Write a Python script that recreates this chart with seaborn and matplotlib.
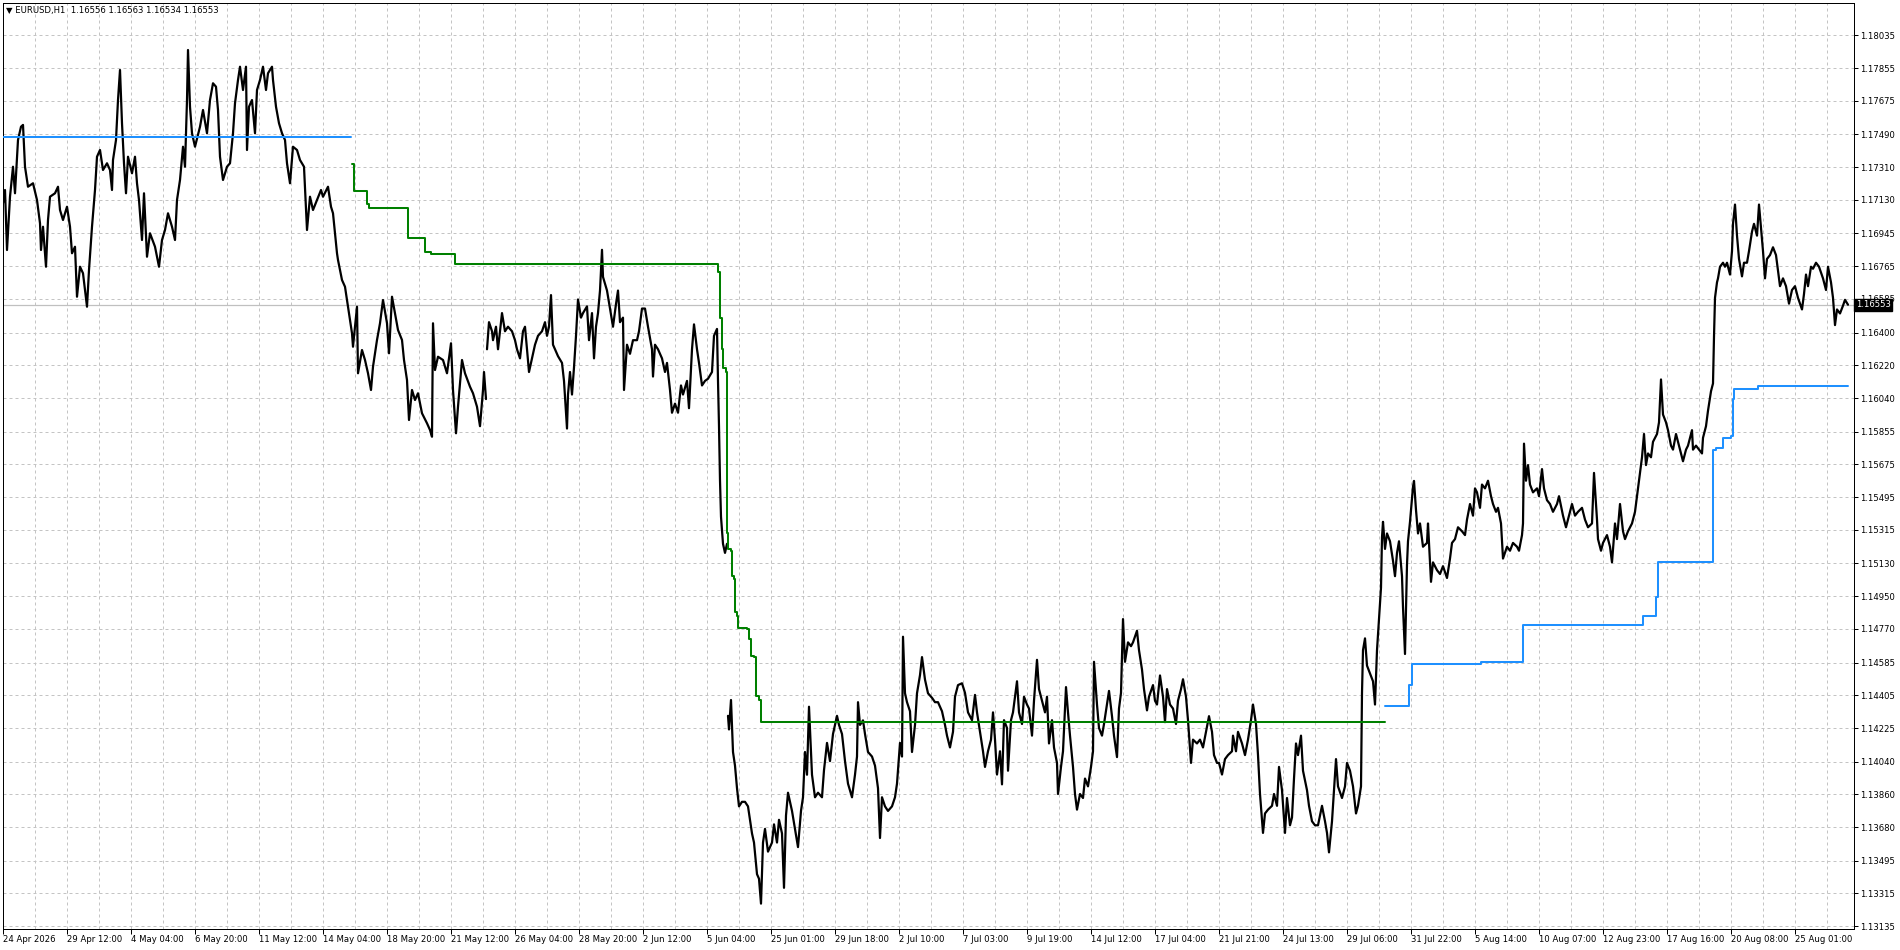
import matplotlib
matplotlib.use("Agg")
import matplotlib.pyplot as plt
import matplotlib.transforms as mtransforms
import numpy as np
import pandas as pd
import seaborn as sns

sns.set_theme(style="white")
plt.rcParams["font.family"] = ["DejaVu Sans"]

# ---------------- data ----------------
title_text = "\u25BC EURUSD,H1  1.16556 1.16563 1.16534 1.16553"
last_price = 1.16553

x_tick_labels = ["24 Apr 2026", "29 Apr 12:00", "4 May 04:00", "6 May 20:00", "11 May 12:00",
                 "14 May 04:00", "18 May 20:00", "21 May 12:00", "26 May 04:00", "28 May 20:00",
                 "2 Jun 12:00", "5 Jun 04:00", "25 Jun 01:00", "29 Jun 18:00", "2 Jul 10:00",
                 "7 Jul 03:00", "9 Jul 19:00", "14 Jul 12:00", "17 Jul 04:00", "21 Jul 21:00",
                 "24 Jul 13:00", "29 Jul 06:00", "31 Jul 22:00", "5 Aug 14:00", "10 Aug 07:00",
                 "12 Aug 23:00", "17 Aug 16:00", "20 Aug 08:00", "25 Aug 01:00"]
bars_per_label = 64
first_label_bar = 3.2

y_tick_labels = ["1.18035", "1.17855", "1.17675", "1.17490", "1.17310", "1.17130", "1.16945",
                 "1.16765", "1.16585", "1.16400", "1.16220", "1.16040", "1.15855", "1.15675",
                 "1.15495", "1.15315", "1.15130", "1.14950", "1.14770", "1.14585", "1.14405",
                 "1.14225", "1.14040", "1.13860", "1.13680", "1.13495", "1.13315", "1.13135"]

# price path (bar number, price) in three runs separated by history gaps
price_seg_a = [
    (3, 1.17111), (5, 1.17184), (7, 1.16854), (10, 1.17147), (13, 1.17312), (15, 1.17166), (18, 1.17459), (21, 1.17532), (23, 1.17542), (25, 1.17312),
    (28, 1.17202), (33, 1.17221), (37, 1.17129), (40, 1.17001), (41, 1.16854), (43, 1.16982), (46, 1.16762), (48, 1.17019), (50, 1.17147), (55, 1.17166),
    (58, 1.17202), (60, 1.17074), (63, 1.17019), (67, 1.17092), (70, 1.16982), (72, 1.16836), (75, 1.16872), (77, 1.16597), (80, 1.16762), (83, 1.16726),
    (87, 1.16542), (89, 1.16744), (92, 1.16982), (95, 1.17184), (97, 1.17367), (100, 1.17404), (103, 1.17294), (107, 1.17331), (110, 1.17294), (112, 1.17184),
    (113, 1.17349), (116, 1.17459), (118, 1.17679), (120, 1.17844), (122, 1.17551), (124, 1.17331), (126, 1.17166), (128, 1.17367), (132, 1.17276), (135, 1.17367),
    (137, 1.17221), (139, 1.17129), (142, 1.16909), (144, 1.17166), (147, 1.16817), (150, 1.16946), (155, 1.16872), (159, 1.16762), (162, 1.16909), (165, 1.16964),
    (168, 1.17056), (172, 1.16982), (175, 1.16909), (177, 1.17129), (180, 1.17239), (183, 1.17422), (185, 1.17312), (187, 1.17679), (188, 1.17954), (190, 1.17642),
    (192, 1.17496), (195, 1.17422), (200, 1.17532), (203, 1.17624), (207, 1.17496), (210, 1.17679), (213, 1.17771), (216, 1.17752), (218, 1.17624), (220, 1.17367),
    (223, 1.17239), (227, 1.17312), (230, 1.17331), (233, 1.17496), (235, 1.17661), (238, 1.17789), (240, 1.17862), (243, 1.17734), (246, 1.17862), (247, 1.17404),
    (249, 1.17642), (252, 1.17679), (255, 1.17496), (257, 1.17734), (260, 1.17789), (263, 1.17862), (266, 1.17734), (268, 1.17826), (272, 1.17862), (273, 1.17789),
    (276, 1.17642), (279, 1.17551), (282, 1.17496), (285, 1.17459), (287, 1.17331), (290, 1.17221), (293, 1.17422), (297, 1.17404), (300, 1.17349), (304, 1.17312),
    (307, 1.16964), (310, 1.17147), (313, 1.17074), (317, 1.17129), (321, 1.17184), (323, 1.17147), (328, 1.17202), (331, 1.17092), (333, 1.17056), (337, 1.16836),
    (338, 1.16799), (342, 1.16689), (345, 1.16652), (348, 1.16542), (352, 1.16396), (353, 1.16322), (357, 1.16542), (358, 1.16176), (362, 1.16304), (365, 1.16249),
    (368, 1.16176), (371, 1.16084), (373, 1.16212), (377, 1.16359), (380, 1.16451), (383, 1.16579), (387, 1.16451), (389, 1.16286), (392, 1.16597), (395, 1.16506),
    (398, 1.16414), (402, 1.16359), (404, 1.16249), (407, 1.16139), (409, 1.15919), (412, 1.16084), (415, 1.16029), (418, 1.16066), (422, 1.15956), (427, 1.15901),
    (430, 1.15864), (432, 1.15827), (433, 1.16451), (435, 1.16194), (438, 1.16267), (443, 1.16249), (447, 1.16176), (451, 1.16341), (453, 1.16084), (456, 1.15846),
    (458, 1.15992), (462, 1.16249), (465, 1.16176), (470, 1.16102), (473, 1.16066), (477, 1.15992), (480, 1.15885), (483, 1.16084), (484, 1.16183), (486, 1.16034),
]
price_seg_b = [
    (487, 1.16308), (489, 1.16457), (492, 1.16407), (493, 1.16358), (496, 1.16432), (498, 1.16308), (500, 1.16407), (502, 1.16507), (505, 1.16407), (508, 1.16432),
    (512, 1.16407), (515, 1.16358), (517, 1.16308), (520, 1.16258), (523, 1.16407), (525, 1.16432), (527, 1.16308), (529, 1.16183), (532, 1.16258), (535, 1.16333),
    (538, 1.16382), (542, 1.16407), (545, 1.16457), (547, 1.16382), (549, 1.16432), (551, 1.16606), (553, 1.16333), (555, 1.16308), (558, 1.16270), (562, 1.16233),
    (564, 1.16134), (567, 1.15872), (568, 1.16059), (570, 1.16183), (572, 1.16059), (574, 1.16208), (576, 1.16382), (578, 1.16582), (581, 1.16482), (583, 1.16507),
    (587, 1.16544), (589, 1.16358), (592, 1.16507), (594, 1.16258), (596, 1.16432), (598, 1.16507), (600, 1.16631), (602, 1.16855), (603, 1.16706), (607, 1.16631),
    (610, 1.16532), (613, 1.16432), (616, 1.16557), (618, 1.16631), (620, 1.16457), (623, 1.16482), (624, 1.16084), (627, 1.16333), (630, 1.16283), (633, 1.16358),
    (637, 1.16358), (639, 1.16407), (642, 1.16532), (645, 1.16532), (648, 1.16432), (652, 1.16308), (653, 1.16158), (655, 1.16333), (658, 1.16308), (662, 1.16258),
    (665, 1.16183), (667, 1.16233), (670, 1.16084), (672, 1.15959), (675, 1.16009), (678, 1.15959), (681, 1.16109), (683, 1.16059), (687, 1.16134), (689, 1.15984),
    (692, 1.16308), (694, 1.16445), (697, 1.16308), (699, 1.16233), (702, 1.16109), (705, 1.16134), (708, 1.16146), (712, 1.16183), (714, 1.16382), (717, 1.16420),
    (718, 1.16134), (719, 1.15885), (720, 1.15586), (721, 1.15387), (722, 1.15312), (723, 1.15238), (725, 1.15188), (727, 1.15238),
]
price_seg_c = [
    (728, 1.14292), (729, 1.14217), (731, 1.14379), (733, 1.14093), (735, 1.14018), (737, 1.13894), (739, 1.13794), (742, 1.13819), (745, 1.13819), (748, 1.13794),
    (752, 1.13645), (754, 1.13595), (757, 1.13421), (759, 1.13396), (761, 1.13259), (763, 1.13595), (765, 1.13670), (768, 1.13545), (772, 1.13595), (774, 1.13695),
    (777, 1.13595), (779, 1.13720), (782, 1.13645), (784, 1.13346), (786, 1.13744), (788, 1.13869), (792, 1.13769), (795, 1.13670), (798, 1.13570), (801, 1.13769),
    (803, 1.13844), (805, 1.14093), (807, 1.13968), (809, 1.14342), (812, 1.13968), (815, 1.13844), (818, 1.13869), (822, 1.13844), (824, 1.13993), (827, 1.14143),
    (830, 1.14043), (833, 1.14192), (837, 1.14292), (839, 1.14242), (842, 1.14192), (845, 1.14043), (848, 1.13919), (852, 1.13844), (855, 1.13968), (857, 1.14068),
    (858, 1.14367), (860, 1.14242), (863, 1.14267), (865, 1.14192), (868, 1.14093), (872, 1.14068), (875, 1.14018), (878, 1.13894), (880, 1.13620), (882, 1.13844),
    (885, 1.13794), (888, 1.13769), (892, 1.13794), (895, 1.13844), (897, 1.13919), (900, 1.14143), (902, 1.14068), (903, 1.14727), (905, 1.14416), (907, 1.14367),
    (910, 1.14317), (912, 1.14093), (915, 1.14242), (917, 1.14416), (920, 1.14516), (922, 1.14615), (925, 1.14491), (928, 1.14416), (932, 1.14391), (935, 1.14367),
    (938, 1.14367), (942, 1.14317), (945, 1.14242), (947, 1.14183), (950, 1.14118), (953, 1.14204), (955, 1.14397), (958, 1.14461), (962, 1.14471), (965, 1.14418),
    (968, 1.14311), (972, 1.14268), (975, 1.14407), (977, 1.14311), (980, 1.14204), (983, 1.14097), (985, 1.14011), (988, 1.14097), (991, 1.14161), (993, 1.14311),
    (995, 1.14161), (997, 1.13969), (1000, 1.14097), (1002, 1.13915), (1004, 1.14268), (1007, 1.14225), (1008, 1.13990), (1011, 1.14268), (1013, 1.14311), (1017, 1.14482),
    (1019, 1.14311), (1022, 1.14247), (1024, 1.14397), (1027, 1.14354), (1029, 1.14332), (1032, 1.14183), (1034, 1.14375), (1036, 1.14525), (1037, 1.14600), (1039, 1.14439),
    (1042, 1.14375), (1045, 1.14311), (1047, 1.14397), (1049, 1.14140), (1052, 1.14268), (1054, 1.14118), (1057, 1.14033), (1058, 1.13862), (1061, 1.14011), (1063, 1.14097),
    (1066, 1.14450), (1068, 1.14311), (1070, 1.14183), (1073, 1.14011), (1075, 1.13862), (1077, 1.13776), (1080, 1.13862), (1083, 1.13840), (1085, 1.13947), (1088, 1.13904),
    (1091, 1.14011), (1093, 1.14097), (1094, 1.14589), (1097, 1.14354), (1099, 1.14225), (1102, 1.14183), (1104, 1.14247), (1107, 1.14354), (1109, 1.14429), (1112, 1.14290),
    (1114, 1.14183), (1117, 1.14065), (1119, 1.14332), (1121, 1.14418), (1123, 1.14824), (1125, 1.14589), (1128, 1.14696), (1131, 1.14675), (1133, 1.14696), (1137, 1.14760),
    (1139, 1.14653), (1142, 1.14546), (1144, 1.14439), (1147, 1.14322), (1149, 1.14397), (1153, 1.14461), (1155, 1.14375), (1157, 1.14354), (1160, 1.14514), (1163, 1.14397),
    (1165, 1.14257), (1167, 1.14439), (1170, 1.14354), (1173, 1.14332), (1176, 1.14247), (1178, 1.14375), (1181, 1.14439), (1183, 1.14493), (1186, 1.14397), (1188, 1.14268),
    (1191, 1.14033), (1193, 1.14161), (1197, 1.14140), (1200, 1.14161), (1203, 1.14118), (1206, 1.14204), (1209, 1.14290), (1212, 1.14204), (1214, 1.14076), (1217, 1.14033),
    (1219, 1.14033), (1222, 1.13969), (1225, 1.14054), (1228, 1.14076), (1232, 1.14097), (1233, 1.14183), (1236, 1.14097), (1238, 1.14204), (1242, 1.14140), (1245, 1.14076),
    (1248, 1.14161), (1251, 1.14268), (1253, 1.14354), (1256, 1.14247), (1258, 1.14076), (1260, 1.13862), (1263, 1.13648), (1265, 1.13755), (1268, 1.13776), (1272, 1.13797),
    (1274, 1.13862), (1277, 1.13797), (1279, 1.14011), (1282, 1.13883), (1285, 1.13648), (1287, 1.13840), (1290, 1.13690), (1292, 1.13733), (1294, 1.13947), (1296, 1.14140),
    (1298, 1.14076), (1301, 1.14183), (1303, 1.13990), (1307, 1.13883), (1309, 1.13797), (1312, 1.13712), (1315, 1.13690), (1318, 1.13690), (1322, 1.13797), (1325, 1.13712),
    (1327, 1.13648), (1329, 1.13541), (1332, 1.13712), (1334, 1.13883), (1336, 1.14054), (1338, 1.13904), (1342, 1.13840), (1345, 1.13904), (1347, 1.14033), (1350, 1.13990),
    (1353, 1.13904), (1356, 1.13755), (1358, 1.13797), (1361, 1.13904), (1362, 1.14418), (1363, 1.14653), (1365, 1.14718), (1367, 1.14568), (1370, 1.14525), (1373, 1.14482),
    (1375, 1.14354), (1377, 1.14653), (1379, 1.14824), (1381, 1.14996), (1382, 1.15274), (1383, 1.15359), (1385, 1.15210), (1387, 1.15295), (1390, 1.15252), (1393, 1.15145),
    (1395, 1.15060), (1397, 1.15188), (1399, 1.15252), (1402, 1.15060), (1403, 1.14889), (1405, 1.14632), (1407, 1.15124), (1408, 1.15252), (1410, 1.15359), (1413, 1.15552),
    (1414, 1.15584), (1416, 1.15424), (1418, 1.15295), (1420, 1.15350), (1423, 1.15222), (1427, 1.15243), (1428, 1.15350), (1431, 1.15029), (1433, 1.15136), (1437, 1.15093),
    (1440, 1.15072), (1443, 1.15115), (1447, 1.15050), (1450, 1.15157), (1452, 1.15243), (1455, 1.15264), (1458, 1.15329), (1462, 1.15307), (1465, 1.15286), (1467, 1.15371),
    (1470, 1.15457), (1473, 1.15393), (1475, 1.15543), (1477, 1.15521), (1480, 1.15436), (1482, 1.15564), (1485, 1.15543), (1488, 1.15585), (1491, 1.15500), (1493, 1.15457),
    (1496, 1.15414), (1498, 1.15436), (1501, 1.15350), (1503, 1.15157), (1507, 1.15222), (1510, 1.15200), (1513, 1.15243), (1517, 1.15222), (1519, 1.15200), (1522, 1.15286),
    (1523, 1.15350), (1524, 1.15789), (1526, 1.15585), (1528, 1.15671), (1530, 1.15564), (1533, 1.15521), (1537, 1.15543), (1539, 1.15500), (1542, 1.15649), (1544, 1.15543),
    (1547, 1.15478), (1550, 1.15457), (1553, 1.15414), (1557, 1.15457), (1559, 1.15500), (1563, 1.15393), (1566, 1.15329), (1568, 1.15371), (1572, 1.15457), (1575, 1.15393),
    (1578, 1.15414), (1582, 1.15436), (1585, 1.15371), (1588, 1.15329), (1592, 1.15350), (1594, 1.15628), (1597, 1.15371), (1598, 1.15264), (1601, 1.15200), (1603, 1.15243),
    (1607, 1.15286), (1610, 1.15222), (1612, 1.15136), (1615, 1.15350), (1617, 1.15264), (1620, 1.15457), (1623, 1.15307), (1625, 1.15264), (1628, 1.15307), (1632, 1.15350),
    (1635, 1.15414), (1637, 1.15500), (1639, 1.15585), (1642, 1.15714), (1644, 1.15842), (1646, 1.15671), (1648, 1.15735), (1651, 1.15714), (1653, 1.15799), (1657, 1.15842),
    (1659, 1.15906), (1661, 1.16142), (1663, 1.15949), (1666, 1.15906), (1668, 1.15863), (1671, 1.15778), (1673, 1.15756), (1676, 1.15842), (1678, 1.15799), (1681, 1.15735),
    (1683, 1.15692), (1686, 1.15756), (1688, 1.15778), (1692, 1.15863), (1693, 1.15756), (1696, 1.15778), (1699, 1.15756), (1702, 1.15735), (1703, 1.15821), (1706, 1.15885),
    (1708, 1.15970), (1711, 1.16077), (1713, 1.16120), (1714, 1.16377), (1715, 1.16591), (1717, 1.16676), (1718, 1.16698), (1720, 1.16762), (1723, 1.16784), (1725, 1.16762),
    (1727, 1.16784), (1730, 1.16719), (1732, 1.16848), (1733, 1.16998), (1735, 1.17104), (1737, 1.16933), (1739, 1.16805), (1742, 1.16709), (1744, 1.16784), (1747, 1.16784),
    (1749, 1.16848), (1752, 1.16955), (1754, 1.16998), (1757, 1.16933), (1759, 1.17104), (1761, 1.16976), (1763, 1.16848), (1765, 1.16698), (1767, 1.16805), (1770, 1.16826),
    (1773, 1.16869), (1776, 1.16826), (1778, 1.16741), (1780, 1.16655), (1783, 1.16698), (1786, 1.16655), (1789, 1.16559), (1792, 1.16634), (1795, 1.16655), (1798, 1.16591),
    (1802, 1.16527), (1804, 1.16612), (1806, 1.16719), (1808, 1.16655), (1811, 1.16762), (1813, 1.16751), (1816, 1.16784), (1819, 1.16762), (1823, 1.16698), (1826, 1.16634),
    (1828, 1.16762), (1831, 1.16676), (1833, 1.16591), (1835, 1.16441), (1837, 1.16527), (1840, 1.16505), (1843, 1.16548), (1845, 1.16580), (1848, 1.16553),
]

blue_left_bar = [3, 351]
blue_left_level = [1.17477, 1.17477]

green_bar = [352, 354, 367, 369, 408, 425, 431, 455, 718, 720, 722, 723, 726, 727, 728,
             731, 732, 734, 735, 737, 738, 747, 749, 751, 754, 756, 759, 761, 1385]
green_level = [1.17327, 1.17180, 1.17107, 1.17087, 1.16922, 1.16845, 1.16830, 1.16777,
               1.16731, 1.16482, 1.16307, 1.16203, 1.16183, 1.15299, 1.15211, 1.15199,
               1.15062, 1.15042, 1.14863, 1.14843, 1.14776, 1.14768, 1.14713, 1.14619,
               1.14614, 1.14402, 1.14377, 1.14260, 1.14260]

blue_bar = [1385, 1409, 1412, 1481, 1523, 1643, 1656, 1658, 1713, 1716, 1723, 1731,
            1733, 1734, 1758, 1848]
blue_level = [1.14344, 1.14462, 1.14575, 1.14586, 1.14789, 1.14843, 1.14943, 1.15136,
              1.15756, 1.15767, 1.15821, 1.15831, 1.16035, 1.16092, 1.16105, 1.16105]

# ---------------- layout ----------------
W, H = 1900, 950
fig = plt.figure(figsize=(W / 100, H / 100), dpi=100)
fig.patch.set_facecolor("white")
ax_left, ax_right, ax_top, ax_bottom = 3, 1854, 3, 929
ax = fig.add_axes([ax_left / W, 1 - ax_bottom / H, (ax_right - ax_left) / W, (ax_bottom - ax_top) / H])
ax.set_facecolor("white")

y_top_price = 1.182125
y_bot_price = 1.131195
ax.set_xlim(ax_left, ax_right)
ax.set_ylim(y_bot_price, y_top_price)

# ---------------- marks ----------------
rows = []
for sid, seg in enumerate([price_seg_a, price_seg_b, price_seg_c]):
    for b, p in seg:
        rows.append((b, p, sid))
price_df = pd.DataFrame(rows, columns=["bar", "price", "seg"])

grid_kw = dict(color="#c4c4c4", linewidth=0.72, linestyle=(0, (3, 3)))

sns.lineplot(data=price_df, x="bar", y="price", units="seg", estimator=None, sort=False,
             color="black", linewidth=1.6, ax=ax, legend=False, zorder=5)

sns.lineplot(x=blue_left_bar, y=blue_left_level, estimator=None, sort=False,
             color="#1E90FF", linewidth=1.45, ax=ax, zorder=6)
sns.lineplot(x=green_bar, y=green_level, estimator=None, sort=False, drawstyle="steps-post",
             color="#008000", linewidth=1.45, ax=ax, zorder=6)
sns.lineplot(x=blue_bar, y=blue_level, estimator=None, sort=False, drawstyle="steps-post",
             color="#1E90FF", linewidth=1.45, ax=ax, zorder=6)

ax.axhline(last_price, color="#c0c0c0", linewidth=0.9, zorder=2)

# ---------------- axes / grid ----------------
major_x = [first_label_bar + bars_per_label * i for i in range(len(x_tick_labels))]
minor_x = [first_label_bar + bars_per_label * i + bars_per_label / 2 for i in range(len(x_tick_labels))]
ax.set_xticks(major_x)
ax.set_xticks(minor_x, minor=True)
ax.set_xticklabels(x_tick_labels, ha="left")
y_vals = [float(v) for v in y_tick_labels]
ax.set_yticks(y_vals)
ax.set_yticklabels(y_tick_labels)
ax.yaxis.tick_right()

ax.grid(False)
for xv in major_x[1:] + minor_x:
    ax.axvline(xv, zorder=1, **grid_kw)
for yv in y_vals:
    ax.axhline(yv, zorder=1, **grid_kw)

ax.tick_params(axis="x", which="major", bottom=True, top=False, direction="out", length=3.5,
               width=0.72, color="black", labelsize=6.1, pad=1.0, labelcolor="black")
ax.tick_params(axis="x", which="minor", bottom=False, length=0)
ax.tick_params(axis="y", which="major", right=True, left=False, labelright=True, labelleft=False,
               direction="out", length=3.0, width=0.72, color="black", labelsize=6.1, pad=1.5,
               labelcolor="black")
ax.set_xlabel("")
ax.set_ylabel("")
for sp in ax.spines.values():
    sp.set_visible(True)
    sp.set_color("black")
    sp.set_linewidth(0.72)

# current price box on the price scale
trans = mtransforms.blended_transform_factory(ax.transAxes, ax.transData)
ax.text(1.0 + 2.0 / (ax_right - ax_left), last_price, f"{last_price:.5f}", transform=trans,
        ha="left", va="center", fontsize=6.1, color="white", zorder=20, clip_on=False,
        bbox=dict(boxstyle="square,pad=0.18", fc="black", ec="black"))

# title
fig.text(6 / W, 1 - 11 / H, title_text, fontsize=6.1, color="black", ha="left", va="center")

fig.savefig("out.png", dpi=100, facecolor="white")
